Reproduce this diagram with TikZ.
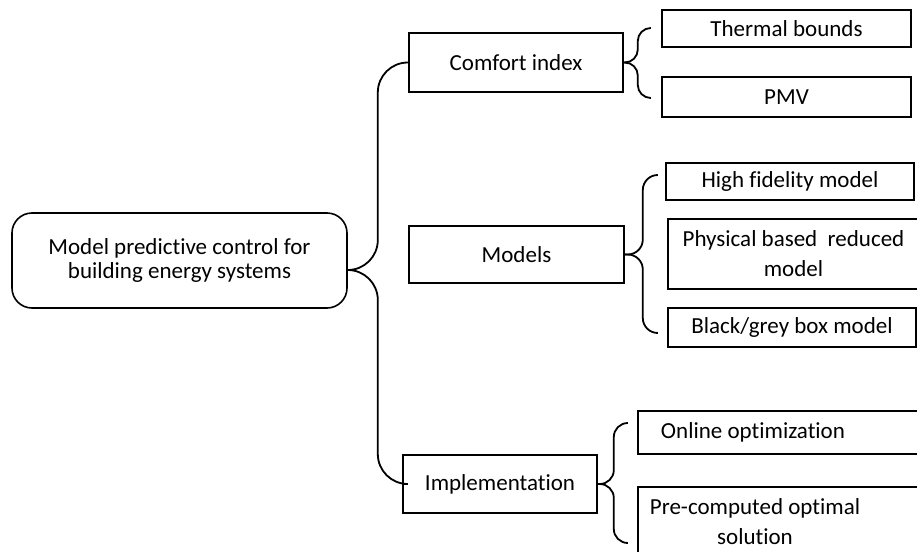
\documentclass[tikz,border=0pt]{standalone}
\usepackage{fontspec}
\setmainfont{Carlito}[Ligatures={NoCommon,NoRare,NoContextual}]
\usetikzlibrary{calc}
\begin{document}
\begin{tikzpicture}[x=1pt,y=-1pt,
  box/.style={draw, line width=1.6pt, rectangle, inner sep=0pt, align=center, font=\fontsize{23}{30}\selectfont},
  txt/.style={inner sep=0pt, align=center, font=\fontsize{23}{30}\selectfont},
  brace/.style={draw, line width=1.8pt}]
\useasboundingbox (0,0) rectangle (917,551);
\begin{scope}
\clip (0,0) rectangle (917,551);
\node[box, rounded corners=20pt, minimum width=335pt, minimum height=95pt, font=\fontsize{23}{24.5}\selectfont] (main) at (179.5,260.5) {Model predictive control for\\building energy systems};
\node[box, minimum width=214pt, minimum height=59pt] (comfort) at (516,62.5) {Comfort index};
\node[box, minimum width=215pt, minimum height=57pt] (models) at (516.5,254.5) {Models};
\node[box, minimum width=194pt, minimum height=58pt] (impl) at (500,484) {Implementation};
\node[box, minimum width=249pt, minimum height=37pt] (thermal) at (786.5,28.5) {Thermal bounds};
\node[box, minimum width=249pt, minimum height=40pt] (pmv) at (786.5,97) {PMV};
\node[box, minimum width=248pt, minimum height=37pt] (hifi) at (790,181.5) {High fidelity model};
\node[box, minimum width=251pt, minimum height=70pt] (phys) at (793.5,254) {Physical based\ \ reduced\\model};
\node[box, minimum width=248pt, minimum height=39pt] (black) at (792,327.5) {Black/grey box model};
\node[box, minimum width=300pt, minimum height=43pt, anchor=west] (online) at (637,432.5) {};
\node[txt] (onlinetxt) at (753,432.5) {Online optimization};
\node[box, minimum width=300pt, minimum height=80pt, anchor=north west] (pre) at (637,486) {};
\node[txt] (pretxt) at (755,522) {Pre-computed optimal\\solution};

\coordinate (mtip) at ($(main.east)+(0,9.5)$);
\draw[brace, rounded corners=30pt] (mtip) -- ++(30,0) |- (comfort.west);
\draw[brace, rounded corners=30pt] (mtip) -- ++(30,0) |- (impl.west);

\coordinate (ce1) at (650,28);
\coordinate (ce2) at (650,98);
\draw[brace, rounded corners=13pt] (comfort.east) -- ++(14,0) |- (ce1);
\draw[brace, rounded corners=13pt] (comfort.east) -- ++(14,0) |- (ce2);

\coordinate (me1) at (657,175);
\coordinate (me2) at (657,333);
\draw[brace, rounded corners=15pt] (models.east) -- ++(18,0) |- (me1);
\draw[brace, rounded corners=15pt] (models.east) -- ++(18,0) |- (me2);

\coordinate (ie1) at (627,423);
\coordinate (ie2) at (627,543);
\draw[brace, rounded corners=14pt] (impl.east) -- ++(16,0) |- (ie1);
\draw[brace, rounded corners=14pt] (impl.east) -- ++(16,0) |- (ie2);
\end{scope}
\end{tikzpicture}
\end{document}
